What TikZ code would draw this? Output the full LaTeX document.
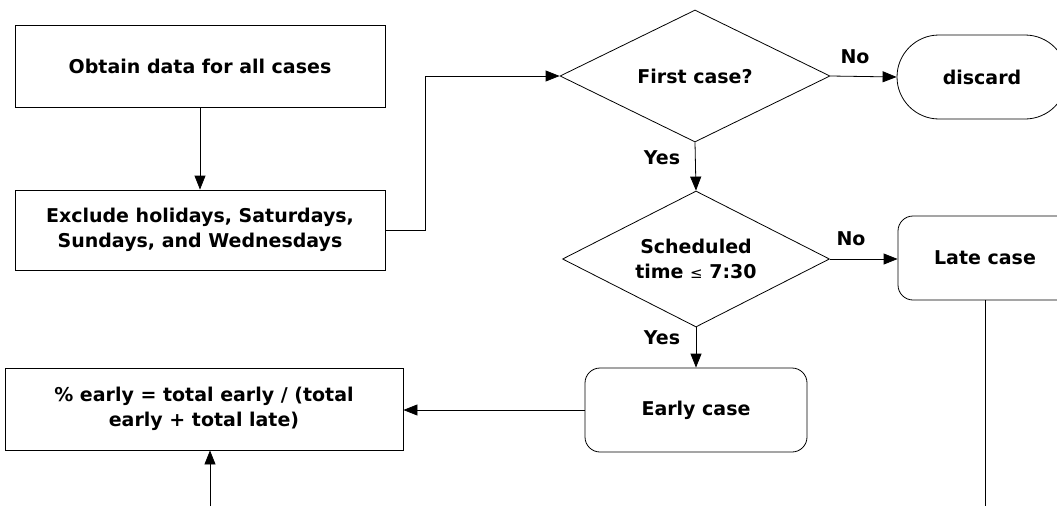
\documentclass[tikz,border=0pt]{standalone}
\usepackage{fontspec}
\setmainfont{DejaVu Sans}
\usetikzlibrary{shapes.geometric,arrows.meta}
\begin{document}
\begin{tikzpicture}[x=1pt,y=-1pt,
  every node/.style={font=\fontsize{19}{25}\selectfont\bfseries, inner sep=0pt, align=center},
  box/.style={draw, rectangle, line width=0.8pt},
  rbox/.style={draw, rectangle, rounded corners=15pt, line width=0.8pt},
  dec/.style={draw, diamond, aspect=2, line width=0.8pt},
  conn/.style={line width=0.8pt, -{Triangle[length=14pt,width=11pt]}},
  plain/.style={line width=0.8pt}]
\useasboundingbox (0,0) rectangle (1057,506);
\clip (0,0) rectangle (1057,506);
\node[box, minimum width=370pt, minimum height=82pt] (obtain) at (200,66) {Obtain data for all cases};
\node[box, minimum width=370pt, minimum height=80pt] (exclude) at (200,230) {Exclude holidays, Saturdays,\\Sundays, and Wednesdays};
\node[dec, minimum width=270pt, minimum height=132pt] (first) at (695,76) {First case?};
\node[draw, rectangle, rounded corners=42pt, line width=0.8pt, minimum width=170pt, minimum height=84pt] (discard) at (982,77) {discard};
\node[dec, minimum width=267pt, minimum height=136pt] (sched) at (696,259) {Scheduled\\time {\mdseries\fontsize{15}{25}\selectfont ≤} 7:30};
\node[rbox, minimum width=174pt, minimum height=84pt] (late) at (985,258) {Late case};
\node[rbox, minimum width=222pt, minimum height=84pt] (early) at (696,410) {Early case};
\node[box, minimum width=398pt, minimum height=82pt] (pct) at (204,409) {\% early = total early / (total\\early + total late)};
\node (no1) at (855,57) {No};
\node (yes1) at (662,158) {Yes};
\node (no2) at (851,239) {No};
\node (yes2) at (662,338) {Yes};
\coordinate (inlow) at (210,506);
\coordinate (latelow) at (985,506);
\draw[conn] (obtain) -- (exclude);
\draw[conn] (exclude.east) -- ++(40,0) |- (first.west);
\draw[conn] (first.east) -- (discard.west);
\draw[conn] (first.south) -- (sched.north);
\draw[conn] (sched.east) -- (sched.east -| late.west);
\draw[conn] (sched.south) -- (early.north);
\draw[conn] (early.west) -- (early.west -| pct.east);
\draw[conn] (inlow) -- (inlow |- pct.south);
\draw[plain] (late.south) -- (latelow);
\end{tikzpicture}
\end{document}
